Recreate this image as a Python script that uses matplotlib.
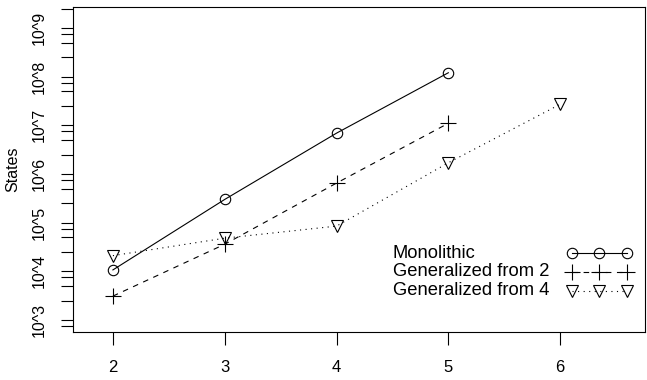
import matplotlib
matplotlib.use('Agg')
import matplotlib.pyplot as plt
from matplotlib.ticker import FixedLocator, FixedFormatter, NullFormatter

plt.rcParams['font.family'] = ['Liberation Sans', 'DejaVu Sans']

# ---- data ----
mono_x = [2, 3, 4, 5]
mono_y = [1.07e4, 3.0e5, 6.9e6, 1.2e8]
gen2_x = [2, 3, 4, 5]
gen2_y = [3.1e3, 3.6e4, 6.5e5, 1.1e7]
gen4_x = [2, 3, 4, 5, 6]
gen4_y = [2.1e4, 4.8e4, 8.5e4, 1.7e6, 2.7e7]
x_ticks = [2, 3, 4, 5, 6]
y_exps = [3, 4, 5, 6, 7, 8, 9]
y_labels = ['10^%d' % e for e in y_exps]
series_labels = ['Monolithic', 'Generalized from 2', 'Generalized from 4']
y_title = 'States'

fig = plt.figure(figsize=(6.47, 3.8), dpi=100)
ax = fig.add_axes([73 / 647, 48 / 380, 572 / 647, 325 / 380])

lw = 0.8
h1, = ax.plot(mono_x, mono_y, color='black', lw=lw, marker='o', ms=7.5,
              mfc='none', mec='black', mew=lw)
h2, = ax.plot(gen2_x, gen2_y, color='black', lw=lw, dashes=(5, 5), marker='+',
              ms=11, mew=lw)
h3, = ax.plot(gen4_x, gen4_y, color='black', lw=lw, dashes=(1, 4), marker='v',
              ms=8.5, mfc='none', mec='black', mew=lw)

ax.set_yscale('log')
ax.set_xlim(1.643, 6.759)
ax.set_ylim(10 ** 2.754, 10 ** 9.43)

ax.xaxis.set_major_locator(FixedLocator(x_ticks))
ax.set_xticklabels([str(v) for v in x_ticks])

majors = [10.0 ** e for e in y_exps]
minors = []
for e in range(2, 10):
    for m in (2.5, 5, 7.5):
        minors.append(m * 10.0 ** e)
ax.yaxis.set_major_locator(FixedLocator(majors))
ax.yaxis.set_major_formatter(FixedFormatter(y_labels))
ax.yaxis.set_minor_locator(FixedLocator(minors))
ax.yaxis.set_minor_formatter(NullFormatter())

for lab in ax.get_yticklabels():
    lab.set_rotation(90)
    lab.set_va('center')

ax.tick_params(axis='both', which='both', direction='out', length=9,
               width=lw, color='black', labelsize=11.5)
ax.tick_params(axis='x', labelsize=12, pad=11)
ax.tick_params(axis='y', pad=10)

for s in ax.spines.values():
    s.set_linewidth(lw)

ax.set_ylabel(y_title, fontsize=11.5, labelpad=8)

# legend: symbols on the right, text left-aligned
leg = ax.legend([h1, h2, h3], [' ', ' ', ' '], loc='lower right',
                bbox_to_anchor=(0.993, 0.067), frameon=False,
                markerfirst=False, numpoints=3, handlelength=3.6, fontsize=13,
                labelspacing=0.12, handletextpad=0.0, borderpad=0)
row_y = [0.243, 0.185, 0.127]
for lbl, yy in zip(series_labels, row_y):
    ax.text(0.559, yy, lbl, transform=ax.transAxes, fontsize=13.2,
            ha='left', va='center')

fig.savefig('out.png', dpi=100)
